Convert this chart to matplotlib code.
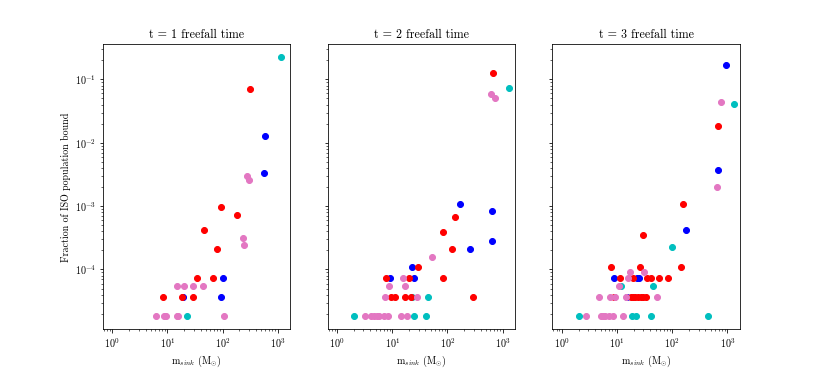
import matplotlib
matplotlib.use("Agg")
import matplotlib.pyplot as plt

plt.rcParams['font.family'] = 'serif'
plt.rcParams['font.serif'] = ['cmr10']
plt.rcParams['mathtext.fontset'] = 'cm'
plt.rcParams['axes.formatter.use_mathtext'] = True

# fraction levels for the smallest counts (1..6 of the ISO population)
L1, L2, L3, L4, L5, L6 = 1.82e-5, 3.64e-5, 5.45e-5, 7.27e-5, 9.09e-5, 1.09e-4

titles = ["t = 1 freefall time", "t = 2 freefall time", "t = 3 freefall time"]

# t = 1
t1_red_m = [318, 93.5, 185, 45.5, 80.5, 34, 67, 8.3, 18.0, 28.7]
t1_red_f = [0.0703, 9.86e-4, 7.36e-4, 4.22e-4, 2.11e-4, L4, L4, L2, L2, L2]
t1_blue_m = [596, 556, 102, 19.2, 95]
t1_blue_f = [0.0129, 0.00336, L4, L2, L2]
t1_pink_m = [273, 301, 231, 241, 15.2, 20.3, 29.6, 44.2, 6.1, 8.7, 9.3, 14.7, 15.6, 108]
t1_pink_f = [0.00297, 0.00263, 3.19e-4, 2.47e-4, L3, L3, L3, L3, L1, L1, L1, L1, L1, L1]
t1_cyan_m = [1160, 22.6]
t1_cyan_f = [0.223, L1]

# t = 2
t2_red_m = [664, 136, 81.5, 120, 28.7, 7.7, 20.2, 81.5, 9.3, 11.1, 16.7, 22.0, 288]
t2_red_f = [0.124, 6.69e-4, 3.87e-4, 2.11e-4, L6, L4, L4, L4, L2, L2, L2, L2, L2]
t2_blue_m = [166, 656, 656, 258, 22.4, 8.9, 24.3]
t2_blue_f = [1.09e-3, 8.43e-4, 2.83e-4, 2.11e-4, L6, L4, L4]
t2_pink_m = [629, 731, 51.5, 15.6, 8.6, 16.7, 7.4, 27.5,
             3.15, 4.15, 4.6, 5.2, 5.8, 7.1, 8.2, 14.1, 18.4]
t2_pink_f = [0.0587, 0.0507, 1.6e-4, L4, L3, L3, L2, L2,
             L1, L1, L1, L1, L1, L1, L1, L1, L1]
t2_cyan_m = [1295, 22.4, 44.2, 2.04, 24.6, 40.6]
t2_cyan_f = [0.0729, L2, L2, L1, L1, L1]

# t = 3
t3_red_m = [679, 158, 28.9, 7.7, 26.2, 145, 11.1, 19.3, 35.1, 41.5, 57.2, 84.3,
            8.6, 17.8, 19.6, 21.3, 23.5, 26.7, 29.7, 32.8]
t3_red_f = [0.0181, 1.09e-3, 3.56e-4, L6, L6, L6, L4, L4, L4, L4, L4, L4,
            L2, L2, L2, L2, L2, L2, L2, L2]
t3_blue_m = [948, 689, 174, 8.9, 22.5, 24.5, 15.1]
t3_blue_f = [0.171, 0.0037, 4.22e-4, L4, L4, L4, L2]
t3_pink_m = [759, 651, 16.8, 30.6, 15.7, 10.9, 4.6, 7.5, 9.2, 14.3, 52.6,
             2.7, 5.1, 5.6, 6.0, 7.0, 8.3, 12.6]
t3_pink_f = [0.0445, 0.00204, L5, L5, L4, L3, L2, L2, L2, L2, L2,
             L1, L1, L1, L1, L1, L1, L1]
t3_cyan_m = [1306, 101, 11.6, 45, 2.06, 18.3, 21.9, 40.4, 447]
t3_cyan_f = [0.0413, 2.3e-4, L3, L3, L1, L1, L1, L1, L1]

panels = [
    [(t1_cyan_m, t1_cyan_f, 'c'), (t1_blue_m, t1_blue_f, 'b'),
     (t1_red_m, t1_red_f, 'r'), (t1_pink_m, t1_pink_f, 'tab:pink')],
    [(t2_cyan_m, t2_cyan_f, 'c'), (t2_blue_m, t2_blue_f, 'b'),
     (t2_red_m, t2_red_f, 'r'), (t2_pink_m, t2_pink_f, 'tab:pink')],
    [(t3_cyan_m, t3_cyan_f, 'c'), (t3_blue_m, t3_blue_f, 'b'),
     (t3_red_m, t3_red_f, 'r'), (t3_pink_m, t3_pink_f, 'tab:pink')],
]

# 822 x 370 px at 72 dpi
fig, axes = plt.subplots(1, 3, figsize=(822 / 72, 370 / 72), dpi=72, sharey=True)

for ax, title, groups in zip(axes, titles, panels):
    for m, f, col in groups:
        ax.scatter(m, f, color=col)
    ax.set_xscale('log')
    ax.set_yscale('log')
    ax.set_xlim(0.67, 1680)
    ax.set_title(title)
    ax.set_xlabel(r'm$_{sink}$ (M$_{\odot}$)')

axes[0].set_ylabel('Fraction of ISO population bound')

plt.savefig("out.png", dpi=72)
